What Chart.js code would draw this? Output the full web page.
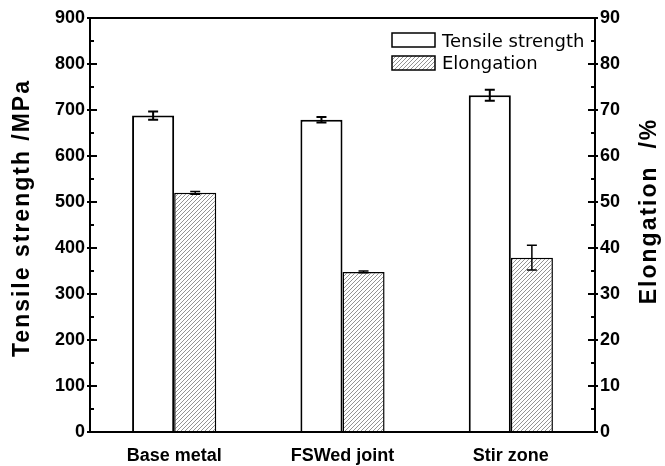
<!DOCTYPE html>
<html lang="en">
<head>
    <meta charset="UTF-8">
    <title>Tensile strength and elongation</title>
    <script src="https://cdn.jsdelivr.net/npm/chart.js"></script>
    <style>
        body {
            margin: 0;
            padding: 0;
            background-color: #fff;
        }
        #wrap {
            width: 665px;
            height: 466px;
        }
    </style>
</head>
<body>
    <div id="wrap"><canvas id="grafico"></canvas></div>

    <script>
        // dados
        const categorias = ['Base metal', 'FSWed joint', 'Stir zone'];
        const resistencia = [688, 679, 732];
        const resistenciaErro = [9, 6, 12];
        const alongamento = [52, 34.8, 37.9];
        const alongamentoErro = [0.3, 0.2, 2.7];
        const ticksEsquerda = [0, 100, 200, 300, 400, 500, 600, 700, 800, 900];
        const ticksDireita = [0, 10, 20, 30, 40, 50, 60, 70, 80, 90];
        const tituloEsquerda = 'Tensile strength /MPa';
        const tituloDireita = 'Elongation  /%';

        // padrão hachurado
        function criarHachura() {
            const c = document.createElement('canvas');
            c.width = 4;
            c.height = 4;
            const g = c.getContext('2d');
            g.fillStyle = '#fff';
            g.fillRect(0, 0, 4, 4);
            g.strokeStyle = '#777';
            g.lineWidth = 0.8;
            g.beginPath();
            g.moveTo(0, 4); g.lineTo(4, 0);
            g.moveTo(-1, 1); g.lineTo(1, -1);
            g.moveTo(3, 5); g.lineTo(5, 3);
            g.stroke();
            return g.createPattern(c, 'repeat');
        }
        const hachura = criarHachura();

        const extras = {
            id: 'extras',
            afterDatasetsDraw(chart) {
                const ctx = chart.ctx;
                const area = chart.chartArea;
                const y = chart.scales.y;
                const y1 = chart.scales.y1;
                ctx.save();
                ctx.strokeStyle = '#000';

                // barras de erro
                const desenharErro = (meta, valores, erros, escala, lw) => {
                    ctx.lineWidth = lw;
                    meta.data.forEach((bar, i) => {
                        const cx = bar.x;
                        const top = escala.getPixelForValue(valores[i] + erros[i]);
                        const bot = escala.getPixelForValue(valores[i] - erros[i]);
                        ctx.beginPath();
                        ctx.moveTo(cx, top); ctx.lineTo(cx, bot);
                        ctx.moveTo(cx - 5, top); ctx.lineTo(cx + 5, top);
                        ctx.moveTo(cx - 5, bot); ctx.lineTo(cx + 5, bot);
                        ctx.stroke();
                    });
                };
                desenharErro(chart.getDatasetMeta(0), resistencia, resistenciaErro, y, 2);
                desenharErro(chart.getDatasetMeta(1), alongamento, alongamentoErro, y1, 1.5);

                // moldura
                ctx.lineWidth = 2;
                ctx.strokeRect(area.left, area.top, area.right - area.left, area.bottom - area.top);

                // marcas dos eixos
                ctx.beginPath();
                for (let v = 0; v <= 900; v += 50) {
                    const py = y.getPixelForValue(v);
                    const maior = v % 100 === 0;
                    ctx.moveTo(area.left - (maior ? 3 : 0), py);
                    ctx.lineTo(area.left + (maior ? 7 : 4), py);
                }
                for (let v = 0; v <= 90; v += 5) {
                    const py = y1.getPixelForValue(v);
                    const maior = v % 10 === 0;
                    ctx.moveTo(area.right + (maior ? 3 : 0), py);
                    ctx.lineTo(area.right - (maior ? 7 : 4), py);
                }
                ctx.stroke();

                // títulos dos eixos (ambos lidos de baixo para cima)
                ctx.fillStyle = '#000';
                ctx.font = 'bold 23px Arial';
                ctx.textAlign = 'center';
                ctx.textBaseline = 'middle';
                const meio = (area.top + area.bottom) / 2;
                ctx.save();
                ctx.letterSpacing = '2px';
                ctx.translate(23, meio - 7);
                ctx.rotate(-Math.PI / 2);
                ctx.fillText(tituloEsquerda, 0, 0);
                ctx.restore();
                ctx.save();
                ctx.letterSpacing = '2px';
                ctx.translate(650, meio - 14);
                ctx.rotate(-Math.PI / 2);
                ctx.fillText(tituloDireita, 0, 0);
                ctx.restore();

                // legenda
                const lx = area.right - 203;
                const ly = area.top + 15;
                ctx.lineWidth = 1.5;
                ctx.fillStyle = '#fff';
                ctx.fillRect(lx, ly, 43, 14);
                ctx.strokeRect(lx, ly, 43, 14);
                ctx.fillStyle = hachura;
                ctx.fillRect(lx, ly + 23, 43, 14);
                ctx.strokeRect(lx, ly + 23, 43, 14);
                ctx.fillStyle = '#000';
                ctx.font = '18px "DejaVu Sans"';
                ctx.textBaseline = 'middle';
                ctx.textAlign = 'left';
                ctx.fillText(chart.data.datasets[0].label, lx + 50, ly + 9);
                ctx.fillText(chart.data.datasets[1].label, lx + 50, ly + 31);
                ctx.restore();
            }
        };

        const fonteTick = { family: 'Arial', size: 18, weight: 'bold' };

        new Chart(document.getElementById('grafico').getContext('2d'), {
            type: 'bar',
            data: {
                labels: categorias,
                datasets: [{
                    label: 'Tensile strength',
                    data: resistencia,
                    yAxisID: 'y',
                    backgroundColor: '#fff',
                    borderColor: '#000',
                    borderWidth: 2,
                    categoryPercentage: 0.5,
                    barPercentage: 1
                }, {
                    label: 'Elongation',
                    data: alongamento,
                    yAxisID: 'y1',
                    backgroundColor: hachura,
                    borderColor: '#000',
                    borderWidth: 1.5,
                    categoryPercentage: 0.5,
                    barPercentage: 1
                }]
            },
            options: {
                responsive: true,
                maintainAspectRatio: false,
                animation: false,
                layout: { padding: { top: 18, left: 0, right: 0, bottom: 0 } },
                plugins: {
                    legend: { display: false },
                    tooltip: { enabled: false }
                },
                scales: {
                    x: {
                        grid: { display: false, drawTicks: false },
                        border: { display: true, width: 2, color: '#000' },
                        ticks: { font: fonteTick, color: '#000', padding: 13 },
                        afterFit: s => { s.height = 34; }
                    },
                    y: {
                        position: 'left',
                        min: 0,
                        max: 900,
                        afterBuildTicks: s => { s.ticks = ticksEsquerda.map(v => ({ value: v })); },
                        grid: { display: false, drawTicks: false },
                        border: { display: true, width: 2, color: '#000' },
                        ticks: { font: fonteTick, color: '#000', padding: 5 },
                        afterFit: s => { s.width = 90; }
                    },
                    y1: {
                        position: 'right',
                        min: 0,
                        max: 90,
                        afterBuildTicks: s => { s.ticks = ticksDireita.map(v => ({ value: v })); },
                        grid: { display: false, drawTicks: false },
                        border: { display: true, width: 2, color: '#000' },
                        ticks: { font: fonteTick, color: '#000', padding: 5 },
                        afterFit: s => { s.width = 70; }
                    }
                }
            },
            plugins: [extras]
        });
    </script>
</body>
</html>
